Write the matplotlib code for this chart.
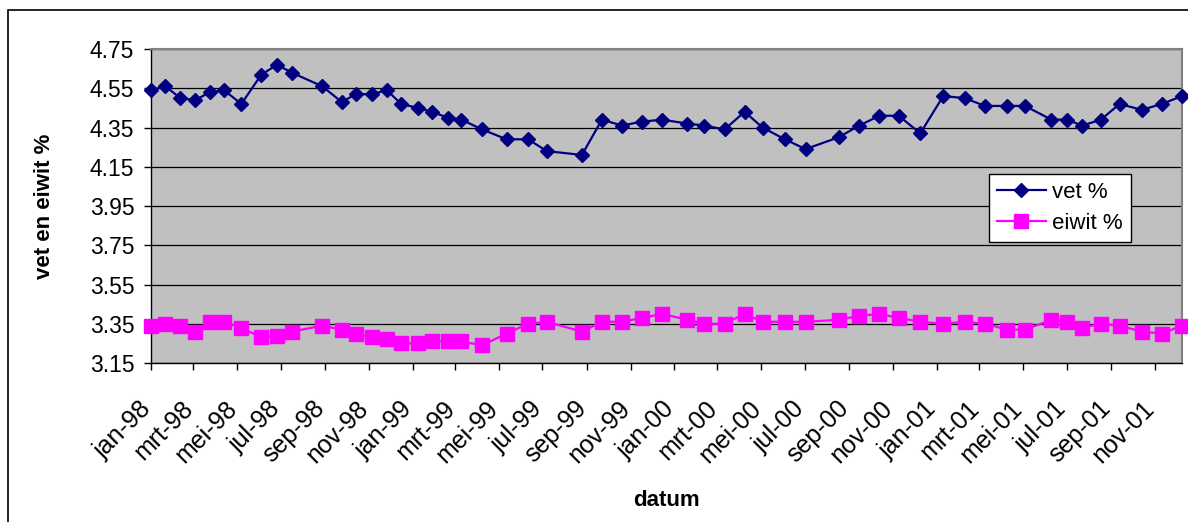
import matplotlib
matplotlib.use("Agg")
import matplotlib.pyplot as plt
import matplotlib.dates as mdates
from matplotlib.patches import Rectangle
from matplotlib.transforms import ScaledTranslation
import pandas as pd

plt.rcParams["font.family"] = ["Liberation Sans", "DejaVu Sans"]

# meetdata
datum = [
    "1998-01-01", "1998-01-21", "1998-02-11", "1998-03-04", "1998-03-24", "1998-04-13",
    "1998-05-07", "1998-06-04", "1998-06-26", "1998-07-16", "1998-08-28", "1998-09-24",
    "1998-10-14", "1998-11-05", "1998-11-26", "1998-12-16", "1999-01-08", "1999-01-28",
    "1999-02-19", "1999-03-10", "1999-04-08", "1999-05-12", "1999-06-11", "1999-07-07",
    "1999-08-25", "1999-09-22", "1999-10-20", "1999-11-17", "1999-12-15", "2000-01-19",
    "2000-02-12", "2000-03-11", "2000-04-08", "2000-05-03", "2000-06-03", "2000-07-02",
    "2000-08-17", "2000-09-15", "2000-10-13", "2000-11-09", "2000-12-09", "2001-01-10",
    "2001-02-09", "2001-03-09", "2001-04-09", "2001-05-04", "2001-06-10", "2001-07-01",
    "2001-07-23", "2001-08-18", "2001-09-13", "2001-10-14", "2001-11-11", "2001-12-09",
]
vet = [
    4.54, 4.56, 4.50, 4.49, 4.53, 4.54, 4.47, 4.62, 4.67, 4.63,
    4.56, 4.48, 4.52, 4.52, 4.54, 4.47, 4.45, 4.43, 4.40, 4.39,
    4.34, 4.29, 4.29, 4.23, 4.21, 4.39, 4.36, 4.38, 4.39, 4.37,
    4.36, 4.34, 4.43, 4.35, 4.29, 4.24, 4.30, 4.36, 4.41, 4.41,
    4.32, 4.51, 4.50, 4.46, 4.46, 4.46, 4.39, 4.39, 4.36, 4.39,
    4.47, 4.44, 4.47, 4.51,
]
eiwit = [
    3.34, 3.35, 3.34, 3.31, 3.36, 3.36, 3.33, 3.28, 3.29, 3.31,
    3.34, 3.32, 3.30, 3.28, 3.27, 3.25, 3.25, 3.26, 3.26, 3.26,
    3.24, 3.30, 3.35, 3.36, 3.31, 3.36, 3.36, 3.38, 3.40, 3.37,
    3.35, 3.35, 3.40, 3.36, 3.36, 3.36, 3.37, 3.39, 3.40, 3.38,
    3.36, 3.35, 3.36, 3.35, 3.32, 3.32, 3.37, 3.36, 3.33, 3.35,
    3.34, 3.31, 3.30, 3.34,
]
y_ticks = [3.15, 3.35, 3.55, 3.75, 3.95, 4.15, 4.35, 4.55, 4.75]
maanden = {1: "jan", 2: "feb", 3: "mrt", 4: "apr", 5: "mei", 6: "jun",
           7: "jul", 8: "aug", 9: "sep", 10: "okt", 11: "nov", 12: "dec"}

dates = pd.to_datetime(datum)

fig = plt.figure(figsize=(11.88, 5.22), dpi=100)
ax = fig.add_axes([0.1271, 0.3046, 0.8678, 0.6015])
ax.set_facecolor("#C0C0C0")

ax.plot(dates, vet, color="#000080", lw=1.6, marker="D", ms=7.5,
        label="vet %", clip_on=False, zorder=3)
ax.plot(dates, eiwit, color="#FF00FF", lw=1.6, marker="s", ms=9.5,
        label="eiwit %", clip_on=False, zorder=3)

ax.set_xlim(dates[0], dates[-1])
ax.set_ylim(y_ticks[0], y_ticks[-1])
ax.set_yticks(y_ticks)
ax.yaxis.set_major_formatter(plt.FuncFormatter(lambda v, p: f"{v:.2f}"))
ax.grid(axis="y", color="black", lw=0.9)
ax.set_axisbelow(True)

ax.xaxis.set_major_locator(mdates.MonthLocator(bymonth=[1, 3, 5, 7, 9, 11]))
ax.xaxis.set_major_formatter(plt.FuncFormatter(
    lambda v, p: f"{maanden[mdates.num2date(v).month]}-{mdates.num2date(v).strftime('%y')}"))

ax.tick_params(axis="both", direction="out", length=5, width=1, color="black")
ax.tick_params(axis="y", labelsize=16.5, pad=7)
ax.tick_params(axis="x", labelsize=18, pad=19)
shift = ScaledTranslation(-9 / 72, 0, fig.dpi_scale_trans)
for lab in ax.get_xticklabels():
    lab.set_rotation(45)
    lab.set_ha("right")
    lab.set_va("top")
    lab.set_rotation_mode("anchor")
    lab.set_transform(lab.get_transform() + shift)

for s in ["left", "bottom"]:
    ax.spines[s].set_color("black")
    ax.spines[s].set_linewidth(1)
for s in ["top", "right"]:
    ax.spines[s].set_color("#808080")
    ax.spines[s].set_linewidth(1.5)

ax.set_ylabel("vet en eiwit %", fontsize=16, fontweight="bold", labelpad=25)
ax.set_xlabel("datum", fontsize=16, fontweight="bold", labelpad=16)

leg = ax.legend(loc="upper left", bbox_to_anchor=(0.813, 0.602), fontsize=16,
                frameon=True, fancybox=False, edgecolor="black", framealpha=1,
                handlelength=2.2, handletextpad=0.3, borderpad=0.35,
                labelspacing=0.45, borderaxespad=0)
leg.get_frame().set_linewidth(1)

# kader rond de hele grafiek
fig.patches.append(Rectangle((7.5 / 1188, -0.2), 2, 1.2 - 9.5 / 522,
                             transform=fig.transFigure, fill=False,
                             edgecolor="black", lw=1.2))

fig.savefig("out.png", dpi=100)
